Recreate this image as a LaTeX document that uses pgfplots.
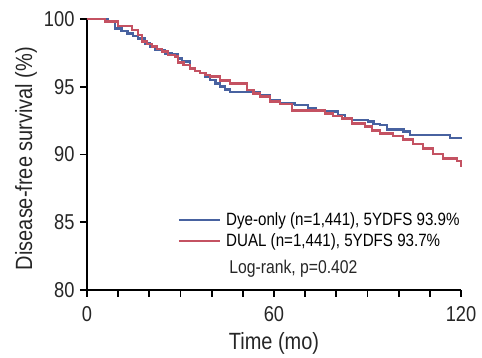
\documentclass[border=0pt]{standalone}
\usepackage{pgfplots}
\pgfplotsset{compat=1.18}
\usepackage{fontspec}
\setmainfont{Liberation Sans}[FakeStretch=0.85]
\definecolor{blueC}{RGB}{72,98,160}
\definecolor{redC}{RGB}{196,82,98}
\begin{document}
\begin{tikzpicture}
\begin{axis}[
  scale only axis, width=374pt, height=271pt,
  xmin=0, xmax=120, ymin=80, ymax=100,
  axis lines*=left,
  axis line style={line width=1.8pt, black},
  xtick={0,10,...,120}, xticklabels={0,,,,,,60,,,,,,120},
  ytick={80,85,...,100},
  tick align=outside, major tick length=7pt,
  tick style={line width=1.8pt, black},
  ticklabel style={font=\fontsize{21.5}{21.5}\selectfont, text=black!85},
  xticklabel style={yshift=-6pt},
  yticklabel style={xshift=-2pt},
  /pgf/number format/assume math mode=true,
  xlabel={Time (mo)}, ylabel={Disease-free survival (\%)},
  label style={font=\fontsize{23.5}{23.5}\selectfont, text=black!85},
  xlabel style={yshift=-4pt},
  ylabel style={xshift=-4pt},
  legend style={at={(axis cs:29.0,85.85)}, anchor=north west, draw=none, fill=none,
    font=\fontsize{17.8}{17.8}\selectfont, row sep=2.5pt, inner sep=0pt,
    nodes={inner xsep=5pt}},
  legend cell align=left,
  legend image code/.code={\draw[#1,line width=2.6pt] (0pt,0pt) -- (41pt,0pt);},
  clip=false,
]
\addplot[const plot mark left, blueC, line width=2.5pt] coordinates {
(0,100) (6.7,99.85) (9,99.3) (11,99.1) (13,98.94) (14.8,98.75) (16.4,98.57)
(18.6,98.2) (20.2,97.95) (21.8,97.7) (25,97.47) (27.3,97.4) (29.2,97.1)
(30.5,96.85) (33,96.36) (34.7,96.15) (36.3,96.0) (38,95.75) (39.5,95.5)
(41.2,95.25) (42.7,95.0) (44.3,94.8) (45.9,94.63) (55.5,94.39) (58.7,94.02)
(61.9,93.78) (66.7,93.65) (70.9,93.4) (73.5,93.28) (76.4,93.16) (80.5,92.9)
(82.8,92.7) (85,92.55) (90.2,92.42) (92,92.25) (94,92.18) (96.2,91.86)
(101.5,91.69) (103.6,91.44) (116.5,91.2) (120,91.12)
};
\addlegendentry{Dye-only (n=1,441), 5YDFS 93.9\%}
\addplot[const plot mark left, redC, line width=2.5pt] coordinates {
(0,100) (5.8,99.8) (10,99.5) (14.4,99.19) (16.4,98.82) (17.6,98.33) (19.2,98.15)
(20.8,97.96) (22.4,97.78) (24,97.59) (26,97.34) (28.2,97.22) (29.2,96.8)
(31,96.6) (33,96.36) (34.7,96.18) (36.3,96.0) (38,95.85) (39.5,95.74)
(42.7,95.45) (45.9,95.25) (51.3,94.76) (53.4,94.5) (55.5,94.27) (58.7,93.9)
(61.9,93.73) (65.8,93.23) (76.4,93.04) (79,92.85) (81.8,92.67) (85,92.3)
(89.2,92.05) (91.4,91.76) (94,91.56) (98.2,91.37) (101.4,91.12) (104.6,90.77)
(107.8,90.46) (111,90.04) (114.2,89.72) (118.7,89.52) (120,89.1)
};
\addlegendentry{DUAL (n=1,441), 5YDFS 93.7\%}
\node[anchor=base west, inner sep=0pt, font=\fontsize{18.5}{18.5}\selectfont, text=black!85]
  at (axis cs:45.6,81.2) {Log-rank, p=0.402};
\end{axis}
\pgfresetboundingbox
\path (current axis.south west) ++(-87pt,-68pt) rectangle ++(482pt,358pt);
\end{tikzpicture}
\end{document}
